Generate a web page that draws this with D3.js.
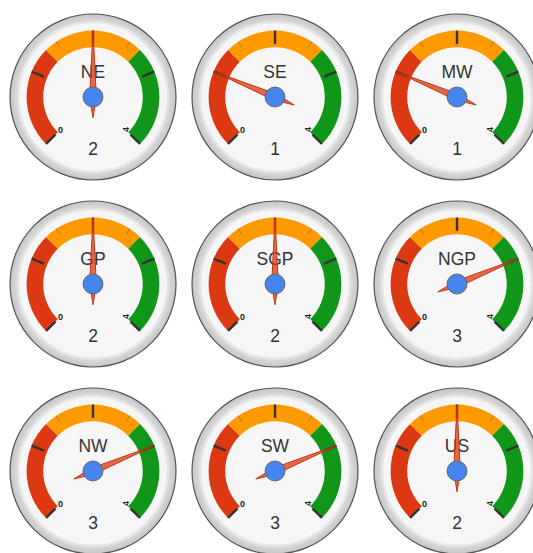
<!DOCTYPE html>
<html>
<head>
<meta charset="utf-8">
<script src="https://cdn.jsdelivr.net/npm/d3@7"></script>
<style>
  body { margin: 0; background: #fff; }
  text { font-family: Arial, "Liberation Sans", sans-serif; }
</style>
</head>
<body>
<script>
const regions = ["NE", "SE", "MW", "GP", "SGP", "NGP", "NW", "SW", "US"];
const values = [2, 1, 1, 2, 2, 3, 3, 3, 2];
const majorTicks = [0, 1, 2, 3, 4];
const minorTicks = [0.5, 1.5, 2.5, 3.5];
const bands = [
  { from: 0, to: 4 / 3, color: "#dc3912" },
  { from: 4 / 3, to: 8 / 3, color: "#ff9900" },
  { from: 8 / 3, to: 4, color: "#109618" }
];

const width = 533, height = 553,
      R = 83,
      cols = [93, 275, 457],
      rows = [97, 284, 471];

const svg = d3.select("body")
  .append("svg")
  .attr("width", width)
  .attr("height", height);

const defs = svg.append("defs");
const ring = defs.append("radialGradient").attr("id", "ring");
ring.append("stop").attr("offset", "85%").attr("stop-color", "#f2f2f2");
ring.append("stop").attr("offset", "93%").attr("stop-color", "#d6d6d6");
ring.append("stop").attr("offset", "100%").attr("stop-color", "#c4c4c4");

// value -> angle in radians (0 = straight up)
const angle = d3.scaleLinear()
  .domain([0, 4])
  .range([-135 * Math.PI / 180, 135 * Math.PI / 180]);

const pt = (a, r) => [r * Math.sin(a), -r * Math.cos(a)];

const gauges = svg.selectAll(".gauge")
  .data(regions.map((name, i) => ({ name: name, value: values[i], i: i })))
  .enter().append("g")
  .attr("class", "gauge")
  .attr("transform", d => "translate(" + cols[d.i % 3] + "," + rows[Math.floor(d.i / 3)] + ")");

gauges.append("circle")
  .attr("r", R)
  .attr("fill", "url(#ring)")
  .attr("stroke", "#555")
  .attr("stroke-width", 1.2);

gauges.append("circle")
  .attr("r", R * 0.9)
  .attr("fill", "#f6f6f6")
  .attr("stroke", "#e6e6e6")
  .attr("stroke-width", 2);

const bandArc = d3.arc()
  .innerRadius(R * 0.6)
  .outerRadius(R * 0.8)
  .startAngle(d => angle(d.from))
  .endAngle(d => angle(d.to));

gauges.selectAll(".band")
  .data(bands)
  .enter().append("path")
  .attr("class", "band")
  .attr("d", bandArc)
  .attr("fill", d => d.color);

gauges.selectAll(".minor")
  .data(minorTicks)
  .enter().append("line")
  .attr("class", "minor")
  .attr("x1", d => pt(angle(d), R * 0.72)[0])
  .attr("y1", d => pt(angle(d), R * 0.72)[1])
  .attr("x2", d => pt(angle(d), R * 0.8)[0])
  .attr("y2", d => pt(angle(d), R * 0.8)[1])
  .attr("stroke", "#666")
  .attr("stroke-opacity", 0.6)
  .attr("stroke-width", 1);

gauges.selectAll(".major")
  .data(majorTicks)
  .enter().append("line")
  .attr("class", "major")
  .attr("x1", d => pt(angle(d), R * 0.64)[0])
  .attr("y1", d => pt(angle(d), R * 0.64)[1])
  .attr("x2", d => pt(angle(d), R * 0.8)[0])
  .attr("y2", d => pt(angle(d), R * 0.8)[1])
  .attr("stroke", "#333")
  .attr("stroke-width", 2.4);

// min / max labels
gauges.selectAll(".lim")
  .data([majorTicks[0], majorTicks[majorTicks.length - 1]])
  .enter().append("text")
  .attr("class", "lim")
  .attr("transform", d => {
    const p = pt(angle(d), R * 0.555);
    return "translate(" + p[0] + "," + p[1] + ") rotate(" + (d === 0 ? 0 : -90) + ")";
  })
  .attr("text-anchor", "middle")
  .attr("dy", "0.35em")
  .attr("font-size", 9)
  .attr("font-weight", "bold")
  .attr("fill", "#222")
  .text(d => d);

gauges.append("text")
  .attr("y", -R * 0.3)
  .attr("dy", "0.35em")
  .attr("text-anchor", "middle")
  .attr("font-size", 17.5)
  .attr("fill", "#333")
  .text(d => d.name);

gauges.append("text")
  .attr("y", R * 0.62)
  .attr("dy", "0.35em")
  .attr("text-anchor", "middle")
  .attr("font-size", 17.5)
  .attr("fill", "#333")
  .text(d => d.value);

// needle
gauges.append("path")
  .attr("d", d => {
    const a = angle(d.value), w = R * 0.04;
    const tip = pt(a, R * 0.8), tail = pt(a, -R * 0.25);
    const l = pt(a - Math.PI / 2, w), r = pt(a + Math.PI / 2, w);
    return "M" + tip + "L" + r + "L" + tail + "L" + l + "Z";
  })
  .attr("fill", "#dc3912")
  .attr("fill-opacity", 0.75)
  .attr("stroke", "#c63310")
  .attr("stroke-width", 1);

gauges.append("circle")
  .attr("r", R * 0.12)
  .attr("fill", "#4684ee")
  .attr("stroke", "#666")
  .attr("stroke-width", 1);
</script>
</body>
</html>
